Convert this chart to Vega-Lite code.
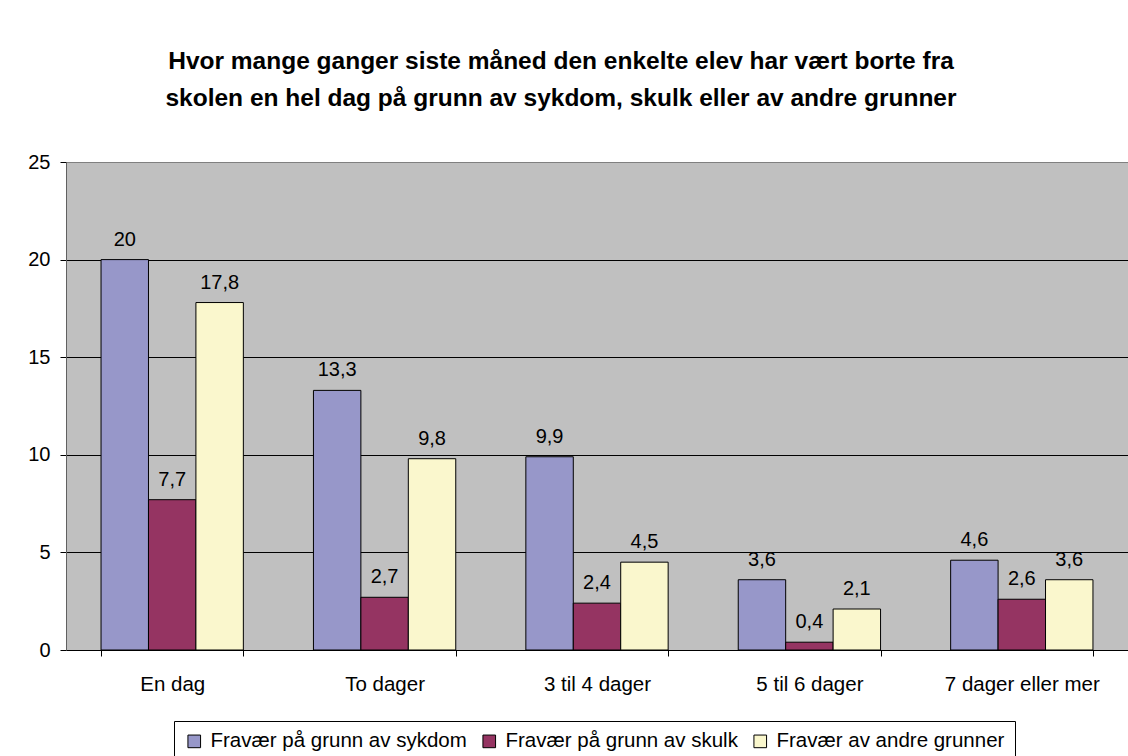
{
  "$schema": "https://vega.github.io/schema/vega-lite/v6.json",
  "autosize": {"type": "none"},
  "width": 1062,
  "height": 488,
  "padding": {"left": 66, "top": 162, "right": 0, "bottom": 106},
  "background": "white",
  "title": {
    "text": ["Hvor mange ganger siste måned den enkelte elev har vært borte fra", "skolen en hel dag på grunn av sykdom, skulk eller av andre grunner"],
    "font": "Liberation Sans",
    "fontSize": 24.5,
    "fontWeight": "bold",
    "lineHeight": 37,
    "anchor": "middle",
    "frame": "group",
    "dx": -36,
    "offset": 41,
    "color": "black"
  },
  "config": {
    "locale": {"number": {"decimal": ",", "thousands": ".", "grouping": [3], "currency": ["", " kr"]}},
    "font": "Liberation Sans",
    "view": {"fill": "#C0C0C0", "stroke": "#808080", "strokeWidth": 1}
  },
  "data": {
    "values": [
      {"kategori": "En dag", "serie": "Fravær på grunn av sykdom", "verdi": 20},
      {"kategori": "En dag", "serie": "Fravær på grunn av skulk", "verdi": 7.7},
      {"kategori": "En dag", "serie": "Fravær av andre grunner", "verdi": 17.8},
      {"kategori": "To dager", "serie": "Fravær på grunn av sykdom", "verdi": 13.3},
      {"kategori": "To dager", "serie": "Fravær på grunn av skulk", "verdi": 2.7},
      {"kategori": "To dager", "serie": "Fravær av andre grunner", "verdi": 9.8},
      {"kategori": "3 til 4 dager", "serie": "Fravær på grunn av sykdom", "verdi": 9.9},
      {"kategori": "3 til 4 dager", "serie": "Fravær på grunn av skulk", "verdi": 2.4},
      {"kategori": "3 til 4 dager", "serie": "Fravær av andre grunner", "verdi": 4.5},
      {"kategori": "5 til 6 dager", "serie": "Fravær på grunn av sykdom", "verdi": 3.6},
      {"kategori": "5 til 6 dager", "serie": "Fravær på grunn av skulk", "verdi": 0.4},
      {"kategori": "5 til 6 dager", "serie": "Fravær av andre grunner", "verdi": 2.1},
      {"kategori": "7 dager eller mer", "serie": "Fravær på grunn av sykdom", "verdi": 4.6},
      {"kategori": "7 dager eller mer", "serie": "Fravær på grunn av skulk", "verdi": 2.6},
      {"kategori": "7 dager eller mer", "serie": "Fravær av andre grunner", "verdi": 3.6}
    ]
  },
  "encoding": {
    "x": {
      "field": "kategori",
      "type": "nominal",
      "sort": ["En dag", "To dager", "3 til 4 dager", "5 til 6 dager", "7 dager eller mer"],
      "scale": {"paddingInner": 0.33, "paddingOuter": 0.165},
      "axis": {
        "title": null,
        "labelAngle": 0,
        "labelFontSize": 20.5,
        "labelColor": "black",
        "labelPadding": 18,
        "labelLimit": 0,
        "tickBand": "extent",
        "tickSize": 6,
        "tickColor": "black",
        "domainColor": "black",
        "grid": false
      }
    },
    "xOffset": {
      "field": "serie",
      "type": "nominal",
      "sort": ["Fravær på grunn av sykdom", "Fravær på grunn av skulk", "Fravær av andre grunner"],
      "scale": {"paddingInner": 0, "paddingOuter": 0}
    },
    "y": {
      "field": "verdi",
      "type": "quantitative",
      "scale": {"domain": [0, 25], "nice": false},
      "axis": {
        "title": null,
        "values": [0, 5, 10, 15, 20, 25],
        "labelFontSize": 20,
        "labelColor": "black",
        "labelPadding": 10,
        "tickSize": 6,
        "tickColor": "black",
        "domainColor": "#606060",
        "grid": true,
        "gridColor": {"condition": {"test": "datum.value === 25", "value": "#808080"}, "value": "black"},
        "gridWidth": 1
      }
    }
  },
  "layer": [
    {
      "mark": {"type": "bar", "stroke": "black", "strokeWidth": 1},
      "encoding": {
        "color": {
          "field": "serie",
          "type": "nominal",
          "scale": {
            "domain": ["Fravær på grunn av sykdom", "Fravær på grunn av skulk", "Fravær av andre grunner"],
            "range": ["#9797C9", "#953462", "#FAF7CD"]
          },
          "legend": {
            "title": null,
            "orient": "none",
            "direction": "horizontal",
            "legendX": 108,
            "legendY": 559,
            "labelFontSize": 20.5,
            "labelColor": "black",
            "labelLimit": 0,
            "symbolType": "square",
            "symbolSize": 160,
            "symbolStrokeColor": "black",
            "symbolStrokeWidth": 1,
            "symbolOpacity": 1,
            "strokeColor": "black",
            "fillColor": "white",
            "padding": 10,
            "columnPadding": 12,
            "labelOffset": 6,
            "cornerRadius": 0
          }
        }
      }
    },
    {
      "mark": {"type": "text", "dy": -14, "baseline": "alphabetic", "fontSize": 20, "color": "black"},
      "encoding": {
        "text": {"field": "verdi", "type": "quantitative", "format": ".1~f"}
      }
    }
  ]
}
